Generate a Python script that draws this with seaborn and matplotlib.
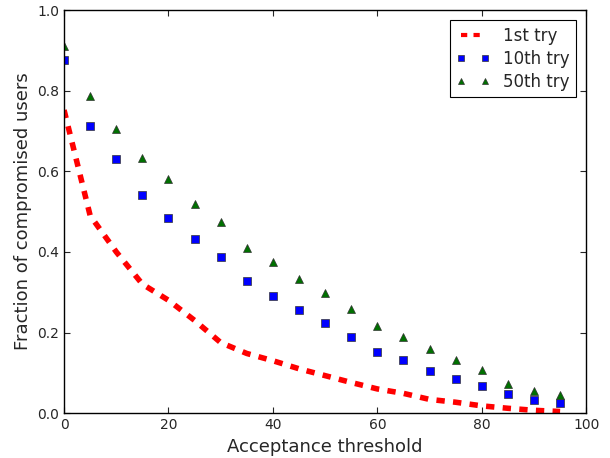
import numpy as np
import pandas as pd
import matplotlib
matplotlib.use("Agg")
import matplotlib.pyplot as plt
import seaborn as sns

# acceptance thresholds and fraction of compromised users per try
thresholds = [0, 5, 10, 15, 20, 25, 30, 35, 40, 45,
              50, 55, 60, 65, 70, 75, 80, 85, 90, 95]
first_try = [0.752, 0.49, 0.40, 0.32, 0.28, 0.23, 0.175, 0.148, 0.13, 0.11,
             0.093, 0.076, 0.060, 0.049, 0.034, 0.027, 0.018, 0.012, 0.007, 0.004]
tenth_try = [0.875, 0.713, 0.63, 0.54, 0.485, 0.432, 0.387, 0.328, 0.29, 0.256,
             0.224, 0.189, 0.152, 0.132, 0.105, 0.084, 0.067, 0.047, 0.032, 0.024]
fiftieth_try = [0.91, 0.787, 0.705, 0.632, 0.58, 0.52, 0.473, 0.41, 0.375, 0.333,
                0.299, 0.259, 0.216, 0.188, 0.158, 0.131, 0.106, 0.073, 0.056, 0.046]

sns.set_style("ticks")
plt.rcParams["font.family"] = ["DejaVu Sans"]
plt.rcParams["xtick.direction"] = "in"
plt.rcParams["ytick.direction"] = "in"

fig, ax = plt.subplots(figsize=(6.1, 4.58), dpi=100)
fig.subplots_adjust(left=0.105, right=0.961, bottom=0.098, top=0.978)

sns.lineplot(x=thresholds, y=first_try, ax=ax, color="red", linewidth=4,
             dashes=False, linestyle=(0, (1.5, 1.5)), label="1st try")
sns.lineplot(x=thresholds, y=tenth_try, ax=ax, color="blue", linestyle="none",
             marker="s", markersize=6, markeredgecolor="#333333",
             markeredgewidth=0.5, label="10th try")
sns.lineplot(x=thresholds, y=fiftieth_try, ax=ax, color="#007000", linestyle="none",
             marker="^", markersize=6, markeredgecolor="#333333",
             markeredgewidth=0.5, label="50th try")

ax.set_xlim(0, 100)
ax.set_ylim(0, 1.0)
ax.set_xticks(np.arange(0, 101, 20))
ax.set_yticks(np.arange(0, 1.01, 0.2))
ax.tick_params(top=True, right=True, labelsize=10, length=4, width=0.8)
for s in ax.spines.values():
    s.set_visible(True)
    s.set_color("black")
    s.set_linewidth(1)

ax.set_xlabel("Acceptance threshold", fontsize=13)
ax.set_ylabel("Fraction of compromised users", fontsize=13)

leg = ax.legend(loc="upper right", numpoints=2, fontsize=12, fancybox=False,
                frameon=True, framealpha=1, edgecolor="black", handlelength=2.0,
                markerscale=0.65, labelspacing=0.3, borderaxespad=0.6)
leg.get_frame().set_linewidth(0.8)
# shrink the dashed line sample a bit as well
leg.get_lines()[0].set_linewidth(3)

fig.savefig("out.png", dpi=100)
